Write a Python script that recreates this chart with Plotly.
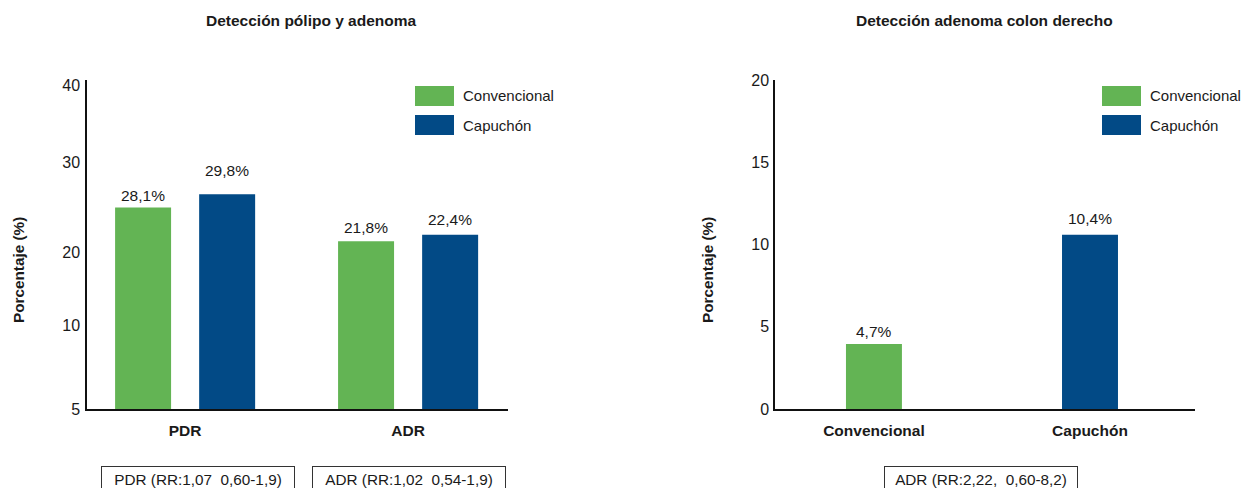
import plotly.graph_objects as go

# ---------------- data ----------------
left_title = "Detección pólipo y adenoma"
right_title = "Detección adenoma colon derecho"
series_names = ["Convencional", "Capuchón"]
left_categories = ["PDR", "ADR"]
# bar heights as drawn against the axis
left_convencional = [24.5, 20.4]
left_capuchon = [26.1, 21.2]
left_conv_labels = ["28,1%", "21,8%"]
left_cap_labels = ["29,8%", "22,4%"]
left_tick_text = ["5", "10", "20", "30", "40"]

right_categories = ["Convencional", "Capuchón"]
right_values = [3.95, 10.6]
right_labels = ["4,7%", "10,4%"]
right_tick_text = ["0", "5", "10", "15", "20"]

y_title = "Porcentaje (%)"
left_notes = ["PDR (RR:1,07\u00a0 0,60-1,9)", "ADR (RR:1,02\u00a0 0,54-1,9)"]
right_notes = ["ADR (RR:2,22,\u00a0 0,60-8,2)"]

# ---------------- style ----------------
W, H = 1255, 488
OFF = 8  # page body margin
GREEN = "#63B454"
BLUE = "#024A86"
colors = [GREEN, BLUE]
FONT = "Liberation Sans, Arial, sans-serif"
TXT = "#1a1a1a"


def px(x):
    return (x - OFF) / W


def py(y):
    return (H - (y - OFF)) / H


BARGAP = 0.246
GROUPGAP = 0.334
slot = (1 - BARGAP) / 2
half = slot / 2

fig = go.Figure()
left_x = list(range(len(left_categories)))
for name, vals, col in zip(series_names, [left_convencional, left_capuchon], colors):
    fig.add_trace(go.Bar(x=left_x, y=vals, name=name, marker=dict(color=col, line=dict(width=0)),
                         xaxis="x", yaxis="y", showlegend=False, hoverinfo="skip"))

right_x = list(range(len(right_categories)))
RW = 0.259
for i, (cat, val) in enumerate(zip(right_categories, right_values)):
    fig.add_trace(go.Bar(x=[right_x[i]], y=[val], name=cat, width=[RW], offset=[-RW / 2],
                         marker=dict(color=colors[i], line=dict(width=0)),
                         xaxis="x2", yaxis="y2", showlegend=False, hoverinfo="skip"))

ydom = [py(409), py(80)]
axis_common = dict(showline=True, linecolor="#111", linewidth=1.5, showgrid=False, zeroline=False,
                   ticks="", automargin=False, tickfont=dict(family=FONT, size=16, color=TXT))
cat_font = dict(family=FONT, size=15.5, color=TXT, weight="bold")

annotations = []
shapes = []

# value labels
left_shifts = [[12, 14], [24, 15]]
for s, (vals, labs) in enumerate(zip([left_convencional, left_capuchon], [left_conv_labels, left_cap_labels])):
    for i, (v, t) in enumerate(zip(vals, labs)):
        annotations.append(dict(x=left_x[i] + (-half if s == 0 else half), y=v, xref="x", yref="y", text=t,
                                showarrow=False, yanchor="middle", yshift=left_shifts[s][i],
                                font=dict(family=FONT, size=15.5, color=TXT)))
right_shifts = [13, 16]
for i, (v, t) in enumerate(zip(right_values, right_labels)):
    annotations.append(dict(x=right_x[i], y=v, xref="x2", yref="y2", text=t, showarrow=False,
                            yanchor="middle", yshift=right_shifts[i],
                            font=dict(family=FONT, size=15.5, color=TXT)))

# titles
for t, xc in [(left_title, 311), (right_title, 984)]:
    annotations.append(dict(x=px(xc), y=py(20), xref="paper", yref="paper", text="<b>%s</b>" % t,
                            showarrow=False, xanchor="center", yanchor="middle",
                            font=dict(family=FONT, size=15.5, color=TXT)))
# y titles
for xc in [18, 707]:
    annotations.append(dict(x=px(xc), y=py(270), xref="paper", yref="paper", text="<b>%s</b>" % y_title,
                            textangle=-90, showarrow=False, xanchor="center", yanchor="middle",
                            font=dict(family=FONT, size=15.3, color=TXT)))

# legends
for x0 in [415, 1102]:
    for k, (name, col) in enumerate(zip(series_names, colors)):
        y0 = 86 + 29 * k
        shapes.append(dict(type="rect", xref="paper", yref="paper", x0=px(x0), x1=px(x0 + 39),
                           y0=py(y0 + 20), y1=py(y0), fillcolor=col, line=dict(width=0)))
        annotations.append(dict(x=px(x0 + 46), y=py(y0 + 10), xref="paper", yref="paper", text=name,
                                showarrow=False, xanchor="left", yanchor="middle",
                                font=dict(family=FONT, size=15, color=TXT)))

# notes boxes
for t, xc in zip(left_notes + right_notes, [198.5, 409, 981]):
    annotations.append(dict(x=px(xc), y=py(479), xref="paper", yref="paper", text=t, showarrow=False,
                            xanchor="center", yanchor="middle", width=192, height=25, borderpad=0,
                            bordercolor="#333", borderwidth=1,
                            font=dict(family=FONT, size=15.3, color=TXT)))

fig.update_layout(
    width=W, height=H, margin=dict(l=0, r=0, t=0, b=0, autoexpand=False),
    paper_bgcolor="white", plot_bgcolor="white",
    barmode="group", bargap=BARGAP, bargroupgap=GROUPGAP,
    showlegend=False,
    xaxis=dict(domain=[px(87), px(508)], range=[-0.44, 1.448], tickvals=left_x, ticktext=left_categories,
               **{**axis_common, "tickfont": cat_font}, ticklabelstandoff=7),
    yaxis=dict(domain=ydom, range=[0, 40], tickvals=[0, 10.2, 19, 30, 39.4], ticktext=left_tick_text,
               **axis_common, ticklabelstandoff=2),
    xaxis2=dict(domain=[px(775), px(1195)], range=[-0.458, 1.486], tickvals=right_x,
                ticktext=right_categories, anchor="y2",
                **{**axis_common, "tickfont": cat_font}, ticklabelstandoff=7),
    yaxis2=dict(domain=ydom, range=[0, 20], tickvals=[0, 5, 10, 15, 20], ticktext=right_tick_text,
                anchor="x2", **axis_common, ticklabelstandoff=1),
    annotations=annotations, shapes=shapes,
)

fig.write_html("out.html")
